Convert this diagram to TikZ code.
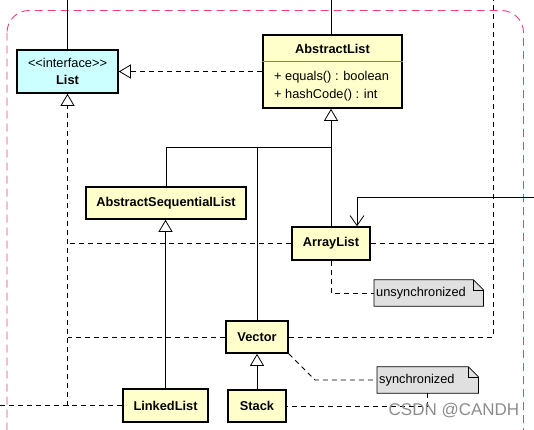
\documentclass[tikz,border=0pt]{standalone}
\usepackage{fontspec}
\setmainfont{Liberation Sans}
\usepackage{xcolor}
\usetikzlibrary{arrows.meta,backgrounds}

\definecolor{classfill}{RGB}{255,255,204}
\definecolor{ifacefill}{RGB}{204,255,255}
\definecolor{notefill}{RGB}{224,224,224}
\definecolor{framepink}{RGB}{235,62,125}

\begin{document}
\begin{tikzpicture}[x=1pt,y=-1pt,
    font=\fontsize{12.8}{15}\selectfont,
    cls/.style={draw,line width=1.6pt,fill=classfill,inner sep=0pt,
      font=\fontsize{12.8}{15}\selectfont\bfseries},
    iface/.style={cls,fill=ifacefill,font=\fontsize{12.8}{15}\selectfont},
    conn/.style={line width=0.8pt},
    dashline/.style={conn,dash pattern=on 5pt off 4pt},
    gen/.style={conn,-{Triangle[open,length=12pt,width=14pt]}},
    realize/.style={dashline,-{Triangle[open,length=12pt,width=14pt]}},
    navig/.style={conn,-{Straight Barb[length=10pt,width=14pt]}},
    notebox/.style={anchor=west,minimum height=26pt,inner xsep=2pt,
      inner ysep=0pt,align=left}]
      \useasboundingbox (0,0) rectangle (534,429);
      \clip (0,0) rectangle (534,429);
      \draw[framepink,line width=0.9pt,dash pattern=on 8pt off 5pt,
        rounded corners=22pt]
        (7,10.5) rectangle (523.5,460);

      \node[iface,minimum width=101,minimum height=43,align=center]
        (list) at (67.5,71.5) {<\kern0pt<interface>\kern0pt>\\[2pt]\textbf{List}};
      \node[cls,minimum width=139,minimum height=73]
        (abslist) at (332.5,71.5) {};
      \node[inner sep=0pt,font=\fontsize{12.8}{15}\selectfont\bfseries]
        (abstitle) at (332.5,49) {AbstractList};
      \draw[line width=0.6pt,draw=gray]
        (abslist.west |- 0,61) -- (abslist.east |- 0,61);
      \node[anchor=west,inner sep=0pt]
        (equals) at (274,77.5) {+ equals() : boolean};
      \node[anchor=west,inner sep=0pt]
        (hashcode) at (274,95) {+ hashCode() : int};
      \node[cls,minimum width=160,minimum height=32]
        (asl) at (166,203) {AbstractSequentialList};
      \node[cls,minimum width=78,minimum height=33]
        (arraylist) at (331,243.5) {ArrayList};
      \node[cls,minimum width=62,minimum height=32]
        (vector) at (257,337) {Vector};
      \node[cls,minimum width=85,minimum height=33]
        (linkedlist) at (165.5,405.5) {LinkedList};
      \node[cls,minimum width=58,minimum height=32]
        (stack) at (257,406) {Stack};
      \node[notebox,text width=105pt]
        (unsync) at (374,293) {unsynchronized};
      \node[notebox,text width=97pt]
        (sync) at (377,380) {synchronized};

      \begin{scope}[on background layer]
        \foreach \n in {unsync,sync} {
          \draw[fill=notefill,line width=0.8pt]
            (\n.south west) -- (\n.north west)
            -- ([xshift=-10pt]\n.north east)
            -- ([yshift=-10pt]\n.north east)
            -- (\n.south east) -- cycle;
          \draw[line width=0.6pt]
            ([xshift=-10pt]\n.north east)
            |- ([yshift=-10pt]\n.north east);
        }
      \end{scope}

      \coordinate (topL) at (67.5,0);
      \coordinate (topA) at (331,0);
      \coordinate (topR) at (493,0);
      \coordinate (farL) at (0,405.5);
      \coordinate (farR) at (534,197);
      \coordinate (hub) at (331,147);

      \draw[conn] (topL) -- (list.north);
      \draw[conn] (topA) -- (abslist.north -| topA);
      \draw[realize] (abslist.west) -- (list.east);
      \draw[realize] (linkedlist.west) -| (list.south);
      \draw[dashline] (farL) -- (linkedlist.west -| list.south);
      \draw[dashline] (arraylist.west) -- (arraylist.west -| list.south);
      \draw[dashline] (vector.west) -- (vector.west -| list.south);
      \draw[dashline] (vector.east) -| (topR);
      \draw[dashline] (arraylist.east) -- (arraylist.east -| topR);
      \draw[gen] (arraylist.north) -- (arraylist.north |- abslist.south);
      \draw[conn] (asl.north) |- (hub);
      \draw[conn] (vector.north) -- (vector.north |- hub);
      \draw[gen] (linkedlist.north) -- (linkedlist.north |- asl.south);
      \draw[gen] (stack.north) -- (vector.south);
      \draw[navig] (farR) -| ([xshift=26pt]arraylist.north);
      \draw[dashline] (arraylist.south) |- (unsync.west);
      \draw[dashline] (vector.south east)
        -- ([xshift=-62pt]sync.west) -- (sync.west);
      \draw[dashline] (sync.south) |- (stack.east);

      \node[text=gray!90,font=\fontsize{17}{19}\selectfont]
        (mark) at (454,411) {CSDN @CANDH};
    \end{tikzpicture}
\end{document}
